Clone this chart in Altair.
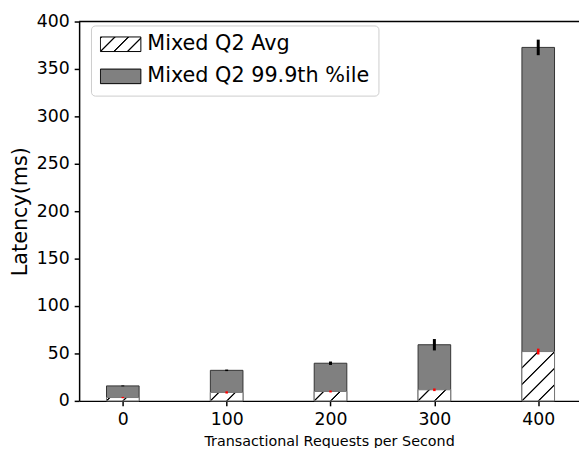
import json
import math
import altair as alt
import pandas as pd

# ---- data ----
rps = [0, 100, 200, 300, 400]
avg = [3.5, 8.9, 9.9, 11.7, 52.0]
avg_err = [0.7, 1.2, 1.0, 1.4, 3.1]
p999 = [15.8, 32.2, 39.7, 59.2, 372.7]
p999_err = [0.5, 0.8, 1.8, 6.0, 8.2]
series_names = ["Mixed Q2 Avg", "Mixed Q2 99.9th %ile"]
x_ticks = [0, 100, 200, 300, 400]
y_ticks = [0, 50, 100, 150, 200, 250, 300, 350, 400]

df = pd.DataFrame({
    "rps": rps,
    "avg": avg,
    "avg_lo": [a - e for a, e in zip(avg, avg_err)],
    "avg_hi": [a + e for a, e in zip(avg, avg_err)],
    "p999": p999,
    "p_lo": [p - e for p, e in zip(p999, p999_err)],
    "p_hi": [p + e for p, e in zip(p999, p999_err)],
})

# ---- layout / style ----
PLOT_W, PLOT_H = 506, 384
X_DOMAIN = [-37.3, 434.5]
Y_DOMAIN = [0, 400]
BAR_W = 33
FONT = "DejaVu Sans"


def hatch(w, h, period, lw=1.3):
    """Diagonal '/' hatch as a linear gradient in bounding-box units."""
    S = w + h
    a = S / (w * w + h * h)
    hw = lw * math.sqrt(2) / 2
    raw = []
    kmin = math.floor(-h / period) - 1
    kmax = math.ceil(w / period) + 1
    for k in range(kmin, kmax + 1):
        c = h + k * period
        pts = [(c - hw - 0.5, "white"), (c - hw + 0.5, "black"),
               (c + hw - 0.5, "black"), (c + hw + 0.5, "white")]
        if pts[-1][0] <= 0 or pts[0][0] >= S:
            continue
        for s, col in pts:
            raw.append((min(max(s / S, 0.0), 1.0), col))
    stops = [{"offset": 0, "color": "white"}]
    for off, col in raw:
        stops.append({"offset": round(off, 4), "color": col})
    stops.append({"offset": 1, "color": "white"})
    return {"gradient": "linear", "x1": 0, "y1": 0,
            "x2": round(a * w, 4), "y2": round(a * h, 4), "stops": stops}


def px_h(v):
    return v * PLOT_H / (Y_DOMAIN[1] - Y_DOMAIN[0])


grads = [hatch(BAR_W, px_h(v), 16.7) for v in avg]
avg_fill = {
    "condition": [{"test": f"datum.rps === {r}", "value": g}
                  for r, g in zip(rps[:-1], grads[:-1])],
    "value": grads[-1],
}

LEG_W, LEG_H = 41, 14.76
legend_hatch = hatch(LEG_W, LEG_H, 13.7)
SYMBOL_PATH = "M-1,-0.36L1,-0.36L1,0.36L-1,0.36Z"

xscale = alt.Scale(domain=X_DOMAIN, nice=False, zero=False)
yscale = alt.Scale(domain=Y_DOMAIN, nice=False)

X_AXIS = alt.Axis(values=x_ticks, format="d", orient="bottom",
                  title="Transactional Requests per Second",
                  titleFontSize=14.5, titleBaseline="alphabetic", titleY=45)
Y_AXIS = alt.Axis(values=y_ticks, format="d", title="Latency(ms)",
                  titleFontSize=21, titleX=-53, titleBaseline="alphabetic")

base = alt.Chart(df)

gray = base.mark_bar(size=BAR_W, stroke="#333333", strokeWidth=1).transform_calculate(
    series="'Mixed Q2 99.9th %ile'"
).encode(
    x=alt.X("rps:Q", scale=xscale, axis=X_AXIS),
    y=alt.Y("p999:Q", scale=yscale, axis=Y_AXIS),
    color=alt.Color(
        "series:N",
        scale=alt.Scale(domain=series_names,
                        range=[{"expr": json.dumps(legend_hatch)}, "gray"]),
        legend=alt.Legend(
            title=None, orient="none", legendX=12, legendY=4,
            labelFont=FONT, labelFontSize=21, labelColor="black", labelLimit=600,
            labelOffset=6, symbolType=SYMBOL_PATH, symbolSize=LEG_W * LEG_W,
            symbolStrokeWidth=1, symbolStrokeColor="black", symbolOpacity=1,
            clipHeight=20, rowPadding=11.5, padding=9, fillColor="white",
            strokeColor="#cccccc",
        ),
    ),
)

err_black = base.mark_rule(color="black", strokeWidth=3).encode(
    x=alt.X("rps:Q", scale=xscale),
    y=alt.Y("p_lo:Q", scale=yscale),
    y2="p_hi:Q",
)

avg_bar = base.mark_bar(size=BAR_W, stroke="#777777", strokeWidth=1).encode(
    x=alt.X("rps:Q", scale=xscale),
    y=alt.Y("avg:Q", scale=yscale),
    color=avg_fill,
)

err_red = base.mark_rule(color="red", strokeWidth=2.5).encode(
    x=alt.X("rps:Q", scale=xscale),
    y=alt.Y("avg_lo:Q", scale=yscale),
    y2="avg_hi:Q",
)

# top spine: a full-width rule at the top of the y domain
top_spine = alt.Chart(pd.DataFrame({"top": [Y_DOMAIN[1]]})).mark_rule(
    color="black", strokeWidth=1.5
).encode(y=alt.Y("top:Q", scale=yscale))

chart = alt.layer(gray, err_black, avg_bar, err_red, top_spine).properties(
    width=PLOT_W, height=PLOT_H,
    autosize=alt.AutoSizeParams(type="none"),
    padding={"left": 72, "top": 11, "right": 0, "bottom": 45},
).configure(font=FONT).configure_view(stroke=None).configure_axis(
    grid=False, domainColor="black", domainWidth=1.5, tickColor="black",
    tickWidth=1.5, tickSize=5, labelPadding=5, labelFont=FONT, labelFontSize=17.5,
    labelColor="black", titleFont=FONT, titleColor="black", titleFontWeight="normal",
).configure_legend(strokeWidth=1, cornerRadius=4)

chart.save("out.html", embed_options={"renderer": "svg", "actions": False})
